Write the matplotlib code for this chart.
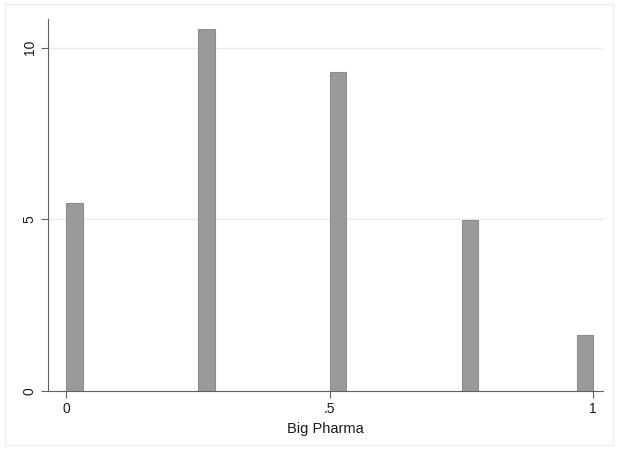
import matplotlib
matplotlib.use("Agg")
import matplotlib.pyplot as plt
from matplotlib.patches import Rectangle

plt.rcParams['font.family'] = ['Liberation Sans', 'DejaVu Sans']

# histogram of Big Pharma share (density), 32 bins on [0, 1]
bin_width = 1 / 32
bin_left = [0.0, 0.25, 0.5, 0.75, 0.96875]
density = [5.48, 10.55, 9.28, 4.99, 1.62]

x_ticks = [0, 0.5, 1]
x_tick_labels = ["0", ".5", "1"]
y_ticks = [0, 5, 10]
y_tick_labels = ["0", "5", "10"]

fig = plt.figure(figsize=(6.18, 4.5), dpi=100)
fig.patch.set_facecolor('white')
# faint outer frame, like the Stata graph region
fig.add_artist(Rectangle((0.008, 0.012), 0.984, 0.98, transform=fig.transFigure,
                         fill=False, edgecolor='#ececec', linewidth=1))

ax = fig.add_axes([0.0772, 0.1311, 0.8985, 0.8267])
ax.bar(bin_left, density, width=bin_width, align='edge',
       color='#9a9a9a', edgecolor='#8c8c8c', linewidth=0.8, zorder=3)

ax.set_xlim(-0.0353, 1.0184)
ax.set_ylim(0, 10.83)

ax.set_xticks(x_ticks)
ax.set_xticklabels(x_tick_labels)
ax.set_yticks(y_ticks)
ax.set_yticklabels(y_tick_labels, rotation=90, va='center')

for yv in y_ticks[1:]:
    ax.axhline(yv, color='#eaeaea', linewidth=1, zorder=1)

for side in ['top', 'right']:
    ax.spines[side].set_visible(False)
ax.spines['left'].set_color('#606060')
ax.spines['bottom'].set_color('#606060')
ax.tick_params(axis='both', direction='out', length=5, width=0.8, color='#606060',
               labelsize=10, labelcolor='#1a1a1a', pad=3)

ax.set_xlabel("Big Pharma", fontsize=10.5, color='#1a1a1a', labelpad=4)

fig.savefig("out.png", dpi=100)
